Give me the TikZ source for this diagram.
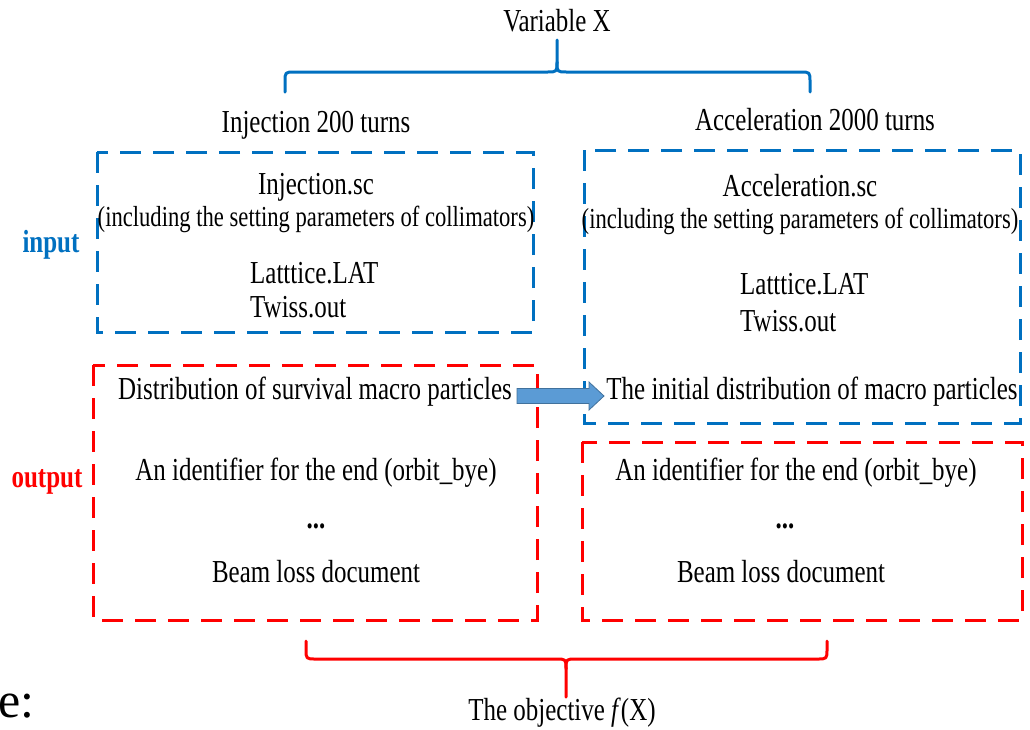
\documentclass[tikz,border=0pt]{standalone}
\usepackage{fontspec}
\usepackage{graphicx}
\setmainfont{Liberation Serif}
\newcommand{\narrow}[1]{\scalebox{0.78}[1]{#1}}
\definecolor{inblue}{HTML}{0070C0}
\definecolor{outred}{HTML}{FF0000}
\definecolor{arrowfill}{HTML}{5B9BD5}
\definecolor{arrowedge}{HTML}{41719C}
\begin{document}
\begin{tikzpicture}[x=1pt,y=-1pt,
  lbl/.style={font=\fontsize{32}{36}\selectfont, inner sep=0pt, anchor=base},
  sml/.style={font=\fontsize{29}{33}\selectfont, inner sep=0pt, anchor=base},
  lft/.style={font=\fontsize{32}{36}\selectfont, inner sep=0pt, anchor=base west},
  tagin/.style={font=\fontsize{32}{36}\selectfont\bfseries, text=inblue, inner sep=0pt, anchor=base},
  tagout/.style={font=\fontsize{32}{36}\selectfont\bfseries, text=outred, inner sep=0pt, anchor=base},
  bluebox/.style={draw=inblue, line width=3pt, dash pattern=on 21pt off 12pt},
  redbox/.style={draw=outred, line width=3pt, dash pattern=on 21pt off 12pt},
  bracestyle/.style={line width=3pt, line cap=round, line join=round},
  blockarrow/.style={fill=arrowfill, draw=arrowedge, line width=0.8pt, line join=miter}]
\useasboundingbox (0,0) rectangle (1030,729);

% boxes
\draw[bluebox] (97,152) rectangle (533,332);
\draw[bluebox] (584,150) rectangle (1020,423);
\draw[redbox] (93,365) rectangle (537,620);
\draw[redbox] (582,442) rectangle (1022,620);

% top
\node[lbl] (varx) at (557,31) {\narrow{Variable X}};
\node[lbl] (inj) at (316,132) {\narrow{Injection 200 turns}};
\node[lbl] (acc) at (815,130) {\narrow{Acceleration 2000 turns}};
\coordinate (topstem) at (557,40);
\draw[bracestyle, draw=inblue] (285,92) -- (285,82) .. controls (285,72) .. (295,72) -- (547,72) .. controls (557,72) .. (557,62) -- (topstem);
\draw[bracestyle, draw=inblue] (557,62) .. controls (557,72) .. (567,72) -- (800,72) .. controls (810,72) .. (810,82) -- (810,92);

% left input
\node[lbl] (injsc) at (316,194) {\narrow{Injection.sc}};
\node[sml] (incl1) at (316,226) {\narrow{(including the setting parameters of collimators)}};
\node[lft] (lat1) at (250,283) {\narrow{Latttice.LAT}};
\node[lft] (tw1) at (250,317) {\narrow{Twiss.out}};

% right input
\node[lbl] (accsc) at (800,196) {\narrow{Acceleration.sc}};
\node[sml] (incl2) at (800,228) {\narrow{(including the setting parameters of collimators)}};
\node[lft] (lat2) at (740,294) {\narrow{Latttice.LAT}};
\node[lft] (tw2) at (740,331) {\narrow{Twiss.out}};
\node[lbl] (init) at (812,399) {\narrow{The initial distribution of macro particles}};

% left output
\node[lbl] (dist) at (315,399) {\narrow{Distribution of survival macro particles}};
\node[lbl] (id1) at (316,480) {\narrow{An identifier for the end (orbit\_bye)}};
\node[lbl] (dots1) at (316,528) {\narrow{\textbf{...}}};
\node[lbl] (bl1) at (316,582) {\narrow{Beam loss document}};

% right output
\node[lbl] (id2) at (796,480) {\narrow{An identifier for the end (orbit\_bye)}};
\node[lbl] (dots2) at (785,528) {\narrow{\textbf{...}}};
\node[lbl] (bl2) at (781,582) {\narrow{Beam loss document}};

% side tags
\node[tagin] (input) at (51,252) {\narrow{input}};
\node[tagout] (output) at (47,487) {\narrow{output}};

% block arrow
\coordinate (arrS) at (517,396);
\coordinate (arrE) at (604,396);
\draw[blockarrow] (arrS) ++(0,-7.5) -- ++(72,0) -- ++(0,-6.5) -- (arrE) -- ++(-15,14) -- ++(0,-6.5) -- ++(-72,0) -- cycle;

% bottom brace
\coordinate (botstem) at (566,697);
\draw[bracestyle, draw=outred] (306,641) -- (306,649) .. controls (306,659) .. (316,659) -- (556,659) .. controls (566,659) .. (566,669) -- (botstem);
\draw[bracestyle, draw=outred] (566,669) .. controls (566,659) .. (576,659) -- (817,659) .. controls (827,659) .. (827,649) -- (827,641);
\node[lbl] (obj) at (562,720) {\narrow{The objective \textit{f}(X)}};

\node[font=\fontsize{50}{54}\selectfont, inner sep=0pt, anchor=base west] (ecolon) at (-2,717) {e:};
\end{tikzpicture}
\end{document}
